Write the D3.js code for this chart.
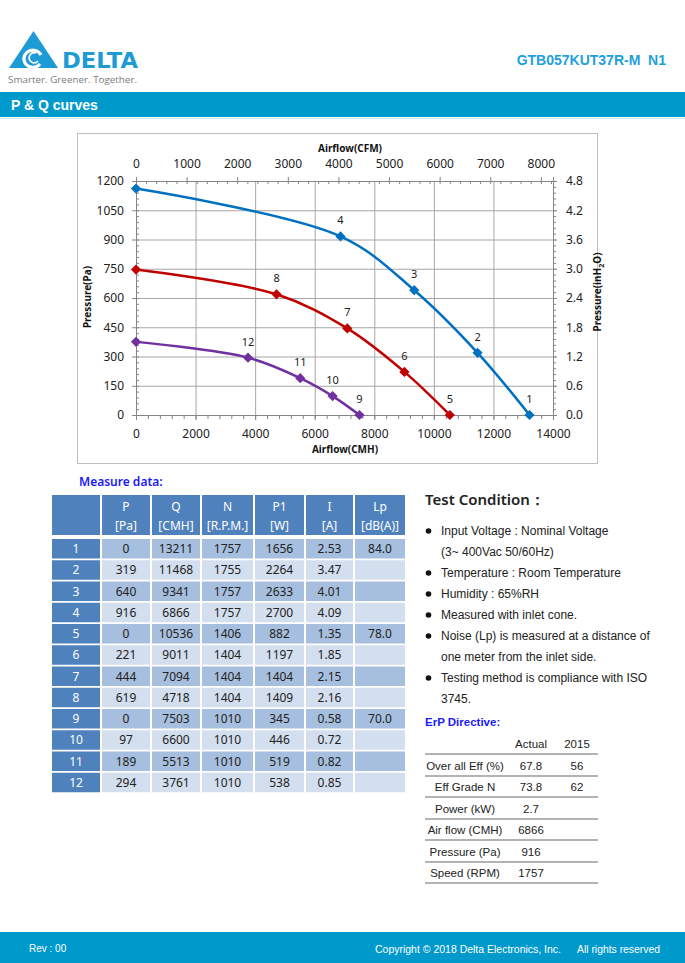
<!DOCTYPE html>
<html><head><meta charset="utf-8">
<script src="https://cdn.jsdelivr.net/npm/d3@7/dist/d3.min.js"></script>
<style>
html,body{margin:0;padding:0;background:#fff;}
svg{display:block;}
</style></head>
<body>
<svg id="page" width="685" height="963"></svg>
<script>
// ---------- DATA ----------
const pointIds   = [1,2,3,4,5,6,7,8,9,10,11,12];
const pressurePa = [0,319,640,916,0,221,444,619,0,97,189,294];
const airflowCMH = [13211,11468,9341,6866,10536,9011,7094,4718,7503,6600,5513,3761];
const speedRPM   = [1757,1755,1757,1757,1406,1404,1404,1404,1010,1010,1010,1010];
const powerW     = [1656,2264,2633,2700,882,1197,1404,1409,345,446,519,538];
const currentA   = ["2.53","3.47","4.01","4.09","1.35","1.85","2.15","2.16","0.58","0.72","0.82","0.85"];
const noiseLp    = ["84.0","","","","78.0","","","","70.0","","",""];
const seriesNames   = ["1757 rpm","1404 rpm","1010 rpm"];
const seriesColors  = ["#0070C0","#C00000","#7030A0"];
const seriesPoints  = [[1,2,3,4],[5,6,7,8],[9,10,11,12]];
const shutoffPa     = [1161,746,375];   // pressure at zero airflow
const cmhTicks  = [0,2000,4000,6000,8000,10000,12000,14000];
const cfmTicks  = [0,1000,2000,3000,4000,5000,6000,7000,8000];
const paTicks   = [0,150,300,450,600,750,900,1050,1200];
const inh2oTicks= [0,0.6,1.2,1.8,2.4,3.0,3.6,4.2,4.8];
const tableHeadTop = ["","P","Q","N","P1","I","Lp"];
const tableHeadBot = ["","[Pa]","[CMH]","[R.P.M.]","[W]","[A]","[dB(A)]"];
const conditionLines = [
  {b:true, t:"Input Voltage : Nominal Voltage"},
  {b:false,t:"(3~ 400Vac 50/60Hz)"},
  {b:true, t:"Temperature : Room Temperature"},
  {b:true, t:"Humidity : 65%RH"},
  {b:true, t:"Measured with inlet cone."},
  {b:true, t:"Noise (Lp) is measured at a distance of"},
  {b:false,t:"one meter from the inlet side."},
  {b:true, t:"Testing method is compliance with ISO"},
  {b:false,t:"3745."}
];
const erpLabels = ["Over all Eff (%)","Eff Grade N","Power (kW)","Air flow (CMH)","Pressure (Pa)","Speed (RPM)"];
const erpActual = ["67.8","73.8","2.7","6866","916","1757"];
const erp2015   = ["56","62","","","",""];

// ---------- PAGE ----------
const svg = d3.select("#page");
const BLUE = "#0099CC";

// Logo
const logo = svg.append("g");
logo.append("path").attr("d","M9,68 L33.5,31 L58,68 Z").attr("fill","#1d9bd7");
logo.append("path").attr("d","M41,55 A9,8.5 0 1 0 40,64").attr("fill","none").attr("stroke","#fff").attr("stroke-width",3.2);
logo.append("path").attr("d","M36,53 A5,5 0 1 0 38,61").attr("fill","none").attr("stroke","#fff").attr("stroke-width",1.6);
logo.append("text").attr("x",62).attr("y",68).text("DELTA")
  .attr("font-family","DejaVu Sans").attr("font-weight","bold").attr("font-size",22)
  .attr("textLength",76).attr("lengthAdjust","spacingAndGlyphs").attr("fill","#1d9bd7");
logo.append("text").attr("x",8).attr("y",83).text("Smarter.  Greener.  Together.")
  .attr("font-family","Open Sans").attr("font-size",9.5).attr("fill","#7a7a7a")
  .attr("textLength",129).attr("lengthAdjust","spacingAndGlyphs");

svg.append("text").attr("x",666).attr("y",65).attr("text-anchor","end")
  .attr("font-family","Liberation Sans").attr("font-weight","bold").attr("font-size",14)
  .attr("fill","#1ea0dc").attr("xml:space","preserve").text("GTB057KUT37R-M  N1");

svg.append("rect").attr("x",0).attr("y",92).attr("width",685).attr("height",25).attr("fill",BLUE);
svg.append("line").attr("x1",0).attr("x2",685).attr("y1",118.5).attr("y2",118.5).attr("stroke","#cfe8f3");
svg.append("text").attr("x",11).attr("y",109.5).text("P & Q curves")
  .attr("font-family","Liberation Sans").attr("font-weight","bold").attr("font-size",14).attr("fill","#fff");

// ---------- CHART ----------
svg.append("rect").attr("x",77.5).attr("y",133.5).attr("width",520).attr("height",330)
  .attr("fill","#fff").attr("stroke","#bfbfbf");

const X0=136, X1=553, Y0=415, Y1=181;
const x = d3.scaleLinear().domain([0,14000]).range([X0,X1]);
const xTop = d3.scaleLinear().domain([0,14000/1.699]).range([X0,X1]);
const y = d3.scaleLinear().domain([0,1200]).range([Y0,Y1]);
const yR = d3.scaleLinear().domain([0,4.8]).range([Y0,Y1]);
const chart = svg.append("g");
const FONT = "Noto Sans";

// grid
chart.append("g").attr("transform",`translate(0,${Y0})`)
  .call(d3.axisBottom(x).tickValues(cmhTicks).tickSize(-(Y0-Y1)).tickFormat(""))
  .call(g=>{g.select(".domain").remove(); g.selectAll("line").attr("stroke","#a6a6a6");});
chart.append("g").attr("transform",`translate(${X0},0)`)
  .call(d3.axisLeft(y).tickValues(paTicks).tickSize(-(X1-X0)).tickFormat(""))
  .call(g=>{g.select(".domain").remove(); g.selectAll("line").attr("stroke","#a6a6a6");});

function styleAxis(g){
  g.select(".domain").attr("stroke","#868686");
  g.selectAll("line").attr("stroke","#868686");
  g.selectAll("text").attr("font-family",FONT).attr("font-size",12).attr("fill","#222");
}
// minor ticks
const range = (a,b,s)=>d3.range(a,b+s/2,s);
chart.append("g").attr("transform",`translate(0,${Y0})`)
  .call(d3.axisBottom(x).tickValues(range(0,14000,400)).tickSize(4).tickFormat("")).call(styleAxis);
chart.append("g").attr("transform",`translate(0,${Y1})`)
  .call(d3.axisTop(xTop).tickValues(range(0,8200,200)).tickSize(-3).tickFormat("")).call(styleAxis);
chart.append("g").attr("transform",`translate(${X0},0)`)
  .call(d3.axisLeft(y).tickValues(range(0,1200,30)).tickSize(-3).tickFormat("")).call(styleAxis);
chart.append("g").attr("transform",`translate(${X1},0)`)
  .call(d3.axisRight(yR).tickValues(range(0,4.8,0.12)).tickSize(3).tickFormat("")).call(styleAxis);
// major axes
chart.append("g").attr("transform",`translate(0,${Y0})`)
  .call(d3.axisBottom(x).tickValues(cmhTicks).tickSize(5).tickPadding(9.5).tickFormat(d3.format("d"))).call(styleAxis);
chart.append("g").attr("transform",`translate(0,${Y1})`)
  .call(d3.axisTop(xTop).tickValues(cfmTicks).tickSize(4).tickPadding(9).tickFormat(d3.format("d"))).call(styleAxis);
chart.append("g").attr("transform",`translate(${X0},0)`)
  .call(d3.axisLeft(y).tickValues(paTicks).tickSize(4).tickPadding(8).tickFormat(d3.format("d"))).call(styleAxis);
chart.append("g").attr("transform",`translate(${X1},0)`)
  .call(d3.axisRight(yR).tickValues(inh2oTicks).tickSize(4).tickPadding(9).tickFormat(d3.format(".1f"))).call(styleAxis);

// axis titles
chart.append("text").attr("x",350).attr("y",152).attr("text-anchor","middle")
  .attr("font-family",FONT).attr("font-weight","bold").attr("font-size",10).attr("fill","#111").text("Airflow(CFM)");
chart.append("text").attr("x",345).attr("y",453).attr("text-anchor","middle")
  .attr("font-family",FONT).attr("font-weight","bold").attr("font-size",10).attr("fill","#111").text("Airflow(CMH)");
chart.append("text").attr("transform","translate(91,297) rotate(-90)").attr("text-anchor","middle")
  .attr("font-family",FONT).attr("font-weight","bold").attr("font-size",10).attr("fill","#111").text("Pressure(Pa)");
const rt = chart.append("text").attr("transform","translate(601,292) rotate(-90)").attr("text-anchor","middle")
  .attr("font-family",FONT).attr("font-weight","bold").attr("font-size",10).attr("fill","#111");
rt.append("tspan").text("Pressure(inH");
rt.append("tspan").attr("font-size",7).attr("dy",2.5).text("2");
rt.append("tspan").attr("dy",-2.5).text("O)");

// curves
const line = d3.line().x(d=>x(d.q)).y(d=>y(d.p)).curve(d3.curveCatmullRom.alpha(0.5));
seriesPoints.forEach((ids,si)=>{
  const pts = [{q:0,p:shutoffPa[si],id:null}].concat(
    ids.map(id=>({q:airflowCMH[id-1],p:pressurePa[id-1],id})).sort((a,b)=>a.q-b.q));
  const g = chart.append("g").attr("class","series").attr("data-name",seriesNames[si]);
  g.append("path").attr("d",line(pts)).attr("fill","none").attr("stroke",seriesColors[si]).attr("stroke-width",2.5);
  g.selectAll("path.m").data(pts).join("path").attr("class","m")
    .attr("d",d3.symbol(d3.symbolSquare,52)())
    .attr("transform",d=>`translate(${x(d.q)},${y(d.p)}) rotate(45)`)
    .attr("fill",seriesColors[si]);
  g.selectAll("text").data(pts.filter(d=>d.id!==null)).join("text")
    .attr("x",d=>x(d.q)).attr("y",d=>y(d.p)-12).attr("text-anchor","middle")
    .attr("font-family",FONT).attr("font-size",11).attr("fill","#222").text(d=>d.id);
});

// ---------- MEASURE TABLE ----------
svg.append("text").attr("x",79).attr("y",486).text("Measure data:")
  .attr("font-family",FONT).attr("font-weight","600").attr("font-size",12).attr("fill","#1a1aff");
const colL = [52,102,152,202,255,306,355];
const colR = [100,150,200,253,304,353,405];
const HEAD="#4f81bd", ODD="#a7bfde", EVEN="#d3dfee";
const tbl = svg.append("g").attr("font-family",FONT).attr("font-size",12).attr("text-anchor","middle");
colL.forEach((l,i)=>{
  tbl.append("rect").attr("x",l).attr("y",495).attr("width",colR[i]-l).attr("height",40).attr("fill",HEAD);
  tbl.append("text").attr("x",(l+colR[i])/2).attr("y",511).attr("fill","#fff").text(tableHeadTop[i]);
  tbl.append("text").attr("x",(l+colR[i])/2).attr("y",530).attr("fill","#fff").text(tableHeadBot[i]);
});
pointIds.forEach((id,r)=>{
  const top = 539 + r*21.25;
  const vals = [id,pressurePa[r],airflowCMH[r],speedRPM[r],powerW[r],currentA[r],noiseLp[r]];
  colL.forEach((l,i)=>{
    tbl.append("rect").attr("x",l).attr("y",top).attr("width",colR[i]-l).attr("height",19.5)
      .attr("fill", i===0?HEAD:(r%2===0?ODD:EVEN));
    tbl.append("text").attr("x",(l+colR[i])/2).attr("y",top+14)
      .attr("fill",i===0?"#fff":"#222").text(vals[i]);
  });
});

// ---------- TEST CONDITION ----------
svg.append("text").attr("x",425).attr("y",505).text("Test Condition：")
  .attr("font-family",FONT).attr("font-weight","600").attr("font-size",15).attr("fill","#222");
conditionLines.forEach((c,i)=>{
  const cy = 531 + i*21;
  if(c.b) svg.append("circle").attr("cx",428.5).attr("cy",cy).attr("r",2.8).attr("fill","#111");
  svg.append("text").attr("x",441).attr("y",cy+4.3).text(c.t)
    .attr("font-family","Liberation Sans").attr("font-size",12).attr("fill","#222");
});

// ---------- ErP ----------
svg.append("text").attr("x",425).attr("y",726).text("ErP Directive:")
  .attr("font-family","Liberation Sans").attr("font-weight","bold").attr("font-size",11.5).attr("fill","#1a1aff");
const erp = svg.append("g").attr("font-family","Liberation Sans").attr("font-size",11.5).attr("fill","#222").attr("text-anchor","middle");
erp.append("text").attr("x",531).attr("y",748).text("Actual");
erp.append("text").attr("x",577).attr("y",748).text("2015");
const lineYs = [754,776,797,819,840,862,883];
lineYs.forEach(ly=>erp.append("line").attr("x1",425).attr("x2",598).attr("y1",ly).attr("y2",ly)
  .attr("stroke","#9a9a9a").attr("stroke-width",1.3));
erpLabels.forEach((lab,i)=>{
  const cy = 766 + i*21.4;
  erp.append("text").attr("x",465).attr("y",cy+4).text(lab);
  erp.append("text").attr("x",531).attr("y",cy+4).text(erpActual[i]);
  erp.append("text").attr("x",577).attr("y",cy+4).text(erp2015[i]);
});

// ---------- FOOTER ----------
svg.append("rect").attr("x",0).attr("y",932).attr("width",685).attr("height",31).attr("fill",BLUE);
const ft = svg.append("g").attr("font-family","Liberation Sans").attr("font-size",10).attr("fill","#fff");
ft.append("text").attr("x",29).attr("y",952).text("Rev : 00");
ft.append("text").attr("x",375).attr("y",953).text("Copyright © 2018 Delta Electronics, Inc.")
  .attr("textLength",186).attr("lengthAdjust","spacingAndGlyphs");
ft.append("text").attr("x",577).attr("y",953).text("All rights reserved")
  .attr("textLength",83).attr("lengthAdjust","spacingAndGlyphs");
</script>
</body></html>
